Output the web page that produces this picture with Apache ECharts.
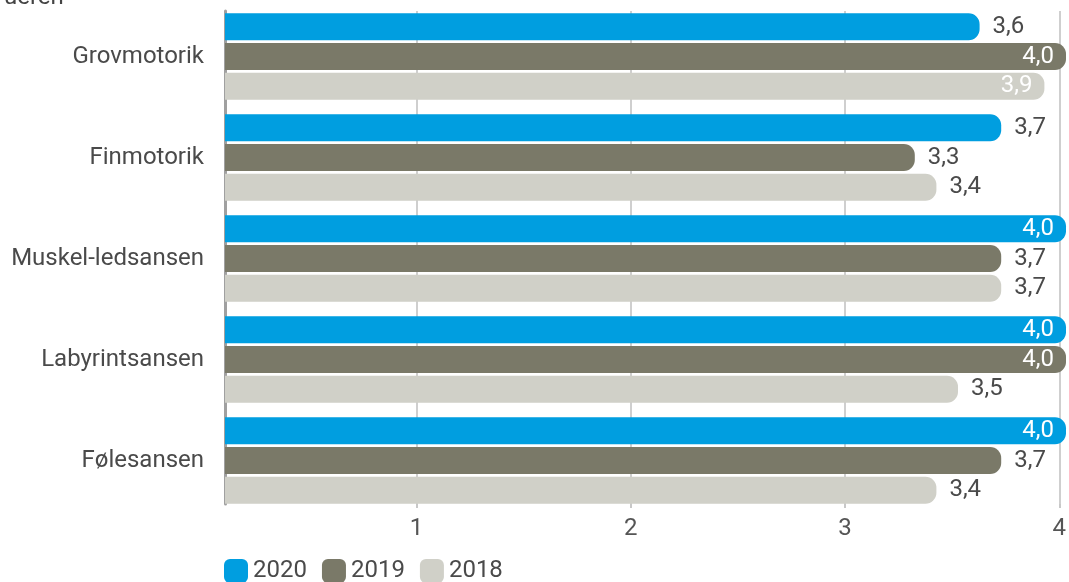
<!DOCTYPE html>
<html>
<head>
<meta charset="utf-8">
<script src="https://cdn.jsdelivr.net/npm/echarts@6/dist/echarts.min.js"></script>
<style>html,body{margin:0;padding:0;background:#fff}#c{width:1069px;height:582px}</style>
</head>
<body>
<div id="c"></div>
<script>
const categories = ['Grovmotorik', 'Finmotorik', 'Muskel-ledsansen', 'Labyrintsansen', 'Følesansen'];
const seriesNames = ['2020', '2019', '2018'];
const values2020 = [3.6, 3.7, 4.0, 4.0, 4.0];
const values2019 = [4.0, 3.3, 3.7, 4.0, 3.7];
const values2018 = [3.9, 3.4, 3.7, 3.5, 3.4];
const xTickValues = [1, 2, 3, 4];
const titleText = 'ueren';

const colors = ['#009ee0', '#7a7968', '#d0d0c8'];
const FONT = 'Roboto, "Noto Sans", sans-serif';
const FS = 24;
const X_MIN = 0.1065, X_MAX = 4;

function fmt(v) { return v.toFixed(1).replace('.', ','); }
function toData(arr) {
  return arr.map(v => v >= 3.9
    ? { value: v, label: { position: 'insideRight', color: '#ffffff', distance: 12 } }
    : { value: v });
}
const allValues = [values2020, values2019, values2018];

const chart = echarts.init(document.getElementById('c'), null, { renderer: 'canvas' });
chart.setOption({
  animation: false,
  color: colors,
  textStyle: { fontFamily: FONT },
  title: {
    text: titleText, left: -1, top: -19,
    textStyle: { fontSize: FS, fontWeight: 'normal', color: '#444', fontFamily: FONT }
  },
  legend: {
    data: seriesNames, left: 219, top: 554,
    icon: 'roundRect', itemWidth: 24, itemHeight: 24, itemGap: 15,
    textStyle: { fontSize: FS, color: '#4a4a4a', fontFamily: FONT, lineHeight: 24, padding: [0, 0, 0, 0] }
  },
  grid: [
    { left: 225, right: 3, top: 6, height: 505 },
    { left: 225, right: 3, top: 11, height: 493 }
  ],
  xAxis: [
    { gridIndex: 0, type: 'value', min: X_MIN, max: X_MAX, show: false },
    {
      gridIndex: 1, type: 'value', min: X_MIN, max: X_MAX,
      axisLine: { show: false },
      axisTick: { show: true, customValues: xTickValues, length: 4, lineStyle: { color: '#c8c8c8', width: 2 } },
      axisLabel: { customValues: xTickValues, fontSize: FS, color: '#555', margin: 13, fontFamily: FONT },
      splitLine: { show: true, lineStyle: { color: '#cfcfcf', width: 2 } }
    }
  ],
  yAxis: [
    {
      gridIndex: 0, type: 'category', data: categories, inverse: true,
      axisLine: { show: false }, axisTick: { show: false },
      axisLabel: { fontSize: FS, color: '#4a4a4a', margin: 21, fontFamily: FONT }
    },
    {
      gridIndex: 1, type: 'category', data: categories, inverse: true,
      axisLine: { show: true, lineStyle: { color: '#a0a0a0', width: 3 } },
      axisTick: { show: false }, axisLabel: { show: false }
    }
  ],
  series: seriesNames.map((name, i) => ({
    name, type: 'bar', xAxisIndex: 0, yAxisIndex: 0,
    data: toData(allValues[i]),
    barWidth: 27, barGap: '10%',
    itemStyle: { color: colors[i], borderRadius: [0, 11, 11, 0] },
    label: {
      show: true, position: 'right', distance: 13,
      formatter: p => fmt(p.value),
      fontSize: FS, color: '#4a4a4a', fontFamily: FONT
    }
  }))
});
</script>
</body>
</html>
